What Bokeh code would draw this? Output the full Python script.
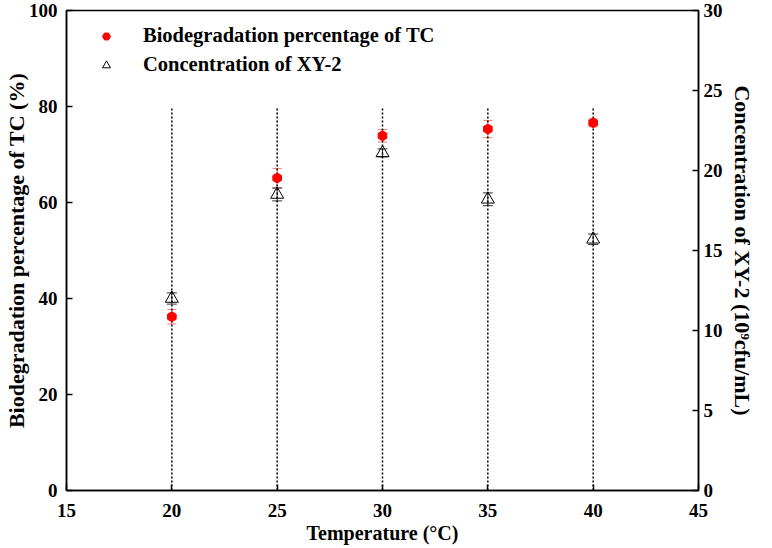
from bokeh.plotting import figure
from bokeh.models import (Range1d, LinearAxis, Whisker, TeeHead, ColumnDataSource,
                          Legend, LegendItem, FixedTicker)
from bokeh.embed import file_html
from bokeh.resources import INLINE

# ---- data ----
temperature = [20, 25, 30, 35, 40]
tc_percent = [36.2, 65.1, 73.9, 75.3, 76.6]
tc_err = [1.5, 2.0, 1.3, 1.8, 0.8]
xy2_conc = [12.0, 18.5, 21.1, 18.2, 15.7]
xy2_err = [0.35, 0.4, 0.25, 0.4, 0.33]
drop_top = 80

x_ticks = [15, 20, 25, 30, 35, 40, 45]
left_ticks = [0, 20, 40, 60, 80, 100]
right_ticks = [0, 5, 10, 15, 20, 25, 30]

FONT = "Liberation Serif"

src = ColumnDataSource(dict(
    x=temperature,
    tc=tc_percent,
    tc_lo=[v - e for v, e in zip(tc_percent, tc_err)],
    tc_hi=[v + e for v, e in zip(tc_percent, tc_err)],
    c=xy2_conc,
    c_lo=[v - e for v, e in zip(xy2_conc, xy2_err)],
    c_hi=[v + e for v, e in zip(xy2_conc, xy2_err)],
    y0=[0] * len(temperature),
    y1=[drop_top] * len(temperature),
))

p = figure(width=757, height=550, output_backend="svg", toolbar_location=None,
           x_range=Range1d(15, 45), y_range=Range1d(0, 100),
           min_border_left=60, min_border_right=56, min_border_top=10, min_border_bottom=60)
p.extra_y_ranges = {"conc": Range1d(0, 30)}

p.grid.visible = False
p.outline_line_color = "black"
p.outline_line_width = 1.5
p.background_fill_color = "white"
p.border_fill_color = "white"

# dotted drop lines
p.segment(x0="x", y0="y0", x1="x", y1="y1", source=src, line_color="black",
          line_width=1.5, line_dash="2 2")

# error bars
w1 = Whisker(base="x", lower="tc_lo", upper="tc_hi", source=src,
             line_color="#ff6666", line_alpha=0.9, line_width=1,
             upper_head=TeeHead(size=9, line_color="#ff6666", line_alpha=0.9),
             lower_head=TeeHead(size=9, line_color="#ff6666", line_alpha=0.9))
p.add_layout(w1)
w2 = Whisker(base="x", lower="c_lo", upper="c_hi", source=src, y_range_name="conc",
             line_color="#333333", line_width=1,
             upper_head=TeeHead(size=10, line_color="#333333"),
             lower_head=TeeHead(size=10, line_color="#333333"))
p.add_layout(w2)

r1 = p.scatter(x="x", y="tc", source=src, marker="hex", size=10, angle=0.5236,
               fill_color="red", line_color="red")
r2 = p.scatter(x="x", y="c", source=src, marker="triangle", size=13,
               fill_color=None, line_color="black", line_width=1, y_range_name="conc")

# axes styling
def style_axis(ax, label_size="20px"):
    ax.axis_line_width = 1.5
    ax.major_tick_in = 6
    ax.major_tick_out = 0
    ax.minor_tick_in = 0
    ax.minor_tick_out = 0
    ax.major_tick_line_width = 1.5
    ax.major_label_text_font = FONT
    ax.major_label_text_font_style = "bold"
    ax.major_label_text_font_size = "19px"
    ax.major_label_text_color = "black"
    ax.axis_label_text_font = FONT
    ax.axis_label_text_font_style = "bold"
    ax.axis_label_text_font_size = label_size
    ax.axis_label_text_color = "black"

xa = p.xaxis[0]
xa.ticker = FixedTicker(ticks=x_ticks)
xa.axis_label = "Temperature (°C)"
xa.major_label_standoff = 13
xa.axis_label_standoff = 2
style_axis(xa, "20px")

ya = p.yaxis[0]
ya.ticker = FixedTicker(ticks=left_ticks)
ya.axis_label = "Biodegradation percentage of TC (%)"
ya.major_label_standoff = 9
ya.axis_label_standoff = -3
style_axis(ya, "22px")

ra = LinearAxis(y_range_name="conc", ticker=FixedTicker(ticks=right_ticks),
                axis_label="Concentration of XY-2 (10⁹cfu/mL)")
ra.major_label_standoff = 5
ra.axis_label_standoff = 4
style_axis(ra, "22px")
p.add_layout(ra, "right")

legend = Legend(items=[LegendItem(label="Biodegradation percentage of TC", renderers=[r1]),
                       LegendItem(label="Concentration of XY-2", renderers=[r2])],
                location=(30, 414), padding=10, spacing=6, glyph_width=20, glyph_height=20,
                label_height=20, label_standoff=27, margin=0,
                border_line_color=None, background_fill_alpha=0)
legend.label_text_font = FONT
legend.label_text_font_style = "bold"
legend.label_text_font_size = "20.5px"
legend.label_text_color = "black"
p.add_layout(legend, "center")

open("out.html", "w").write(file_html(p, INLINE))
